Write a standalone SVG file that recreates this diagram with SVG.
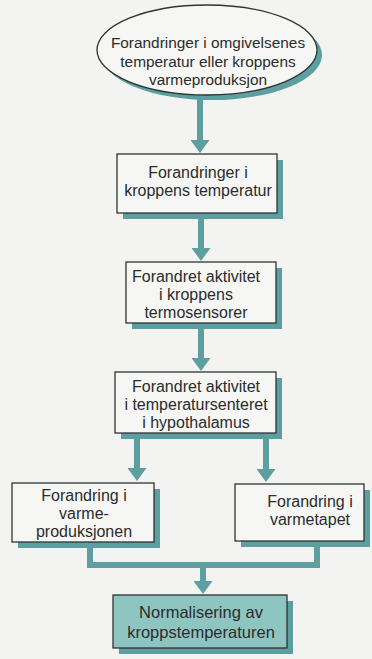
<svg xmlns="http://www.w3.org/2000/svg" width="372" height="659" viewBox="0 0 372 659">
<style>
.bg{fill:#f3f3f1}
.box{fill:#f6f7f5;stroke:#2e3434;stroke-width:1.3}
.final{fill:#8fc5c1;stroke:#2e3434;stroke-width:1.3}
.sh{fill:#5d9fa0}
.t{font-family:"Liberation Sans",Arial,sans-serif;font-size:16px;fill:#2a2c2c;text-anchor:middle}
.te{font-size:15.4px}
.tf{font-size:16.5px}
.c{fill:none;stroke:#5d9fa0;stroke-width:6}
</style>
<defs>
<marker id="ah" markerUnits="userSpaceOnUse" viewBox="0 0 13 19" markerWidth="13" markerHeight="19" refX="0" refY="9.5" orient="auto">
<path d="M0,0 L13,9.5 L0,19 z" fill="#5d9fa0"/>
</marker>
</defs>
<rect class="bg" x="0" y="0" width="372" height="659"/>
<g id="connectors">
<line class="c" x1="200" y1="96" x2="200" y2="140" marker-end="url(#ah)"/>
<line class="c" x1="201" y1="213" x2="201" y2="248" marker-end="url(#ah)"/>
<line class="c" x1="201" y1="323" x2="201" y2="358" marker-end="url(#ah)"/>
<line class="c" x1="137" y1="433" x2="137" y2="468" marker-end="url(#ah)"/>
<line class="c" x1="266" y1="433" x2="266" y2="469" marker-end="url(#ah)"/>
<path class="c" d="M90,542 V565 H317 V541"/>
<line class="c" x1="203" y1="565" x2="203" y2="581" marker-end="url(#ah)"/>
</g>
<g id="n0">
<ellipse class="sh" cx="212" cy="55" rx="110" ry="45"/>
<ellipse class="box" cx="207" cy="50" rx="110" ry="45"/>
<text class="t te" x="208" y="48">Forandringer i omgivelsenes</text>
<text class="t te" x="208" y="67">temperatur eller kroppens</text>
<text class="t te" x="208" y="85">varmeproduksjon</text>
</g>
<g id="n1">
<rect class="sh" x="123" y="160" width="160" height="59"/>
<rect class="box" x="117" y="154" width="160" height="59"/>
<text class="t" x="198" y="178">Forandringer i</text>
<text class="t" x="198" y="196">kroppens temperatur</text>
</g>
<g id="n2">
<rect class="sh" x="132" y="268" width="150" height="61"/>
<rect class="box" x="126" y="262" width="150" height="61"/>
<text class="t" x="196" y="282">Forandret aktivitet</text>
<text class="t" x="196" y="300">i kroppens</text>
<text class="t" x="196" y="318">termosensorer</text>
</g>
<g id="n3">
<rect class="sh" x="121" y="378" width="161" height="61"/>
<rect class="box" x="115" y="372" width="161" height="61"/>
<text class="t" x="196" y="392">Forandret aktivitet</text>
<text class="t" x="196" y="410">i temperatursenteret</text>
<text class="t" x="196" y="428">i hypothalamus</text>
</g>
<g id="n4">
<rect class="sh" x="18" y="489" width="142" height="59"/>
<rect class="box" x="12" y="483" width="142" height="59"/>
<text class="t" x="84" y="501">Forandring i</text>
<text class="t" x="84" y="519">varme-</text>
<text class="t" x="84" y="537">produksjonen</text>
</g>
<g id="n5">
<rect class="sh" x="241" y="490" width="129" height="57"/>
<rect class="box" x="235" y="484" width="129" height="57"/>
<text class="t" x="310" y="507">Forandring i</text>
<text class="t" x="310" y="525">varmetapet</text>
</g>
<g id="n6">
<rect class="sh" x="119" y="601" width="174" height="53"/>
<rect class="final" x="113" y="595" width="174" height="53"/>
<text class="t tf" x="201" y="618">Normalisering av</text>
<text class="t tf" x="201" y="638">kroppstemperaturen</text>
</g>
</svg>
